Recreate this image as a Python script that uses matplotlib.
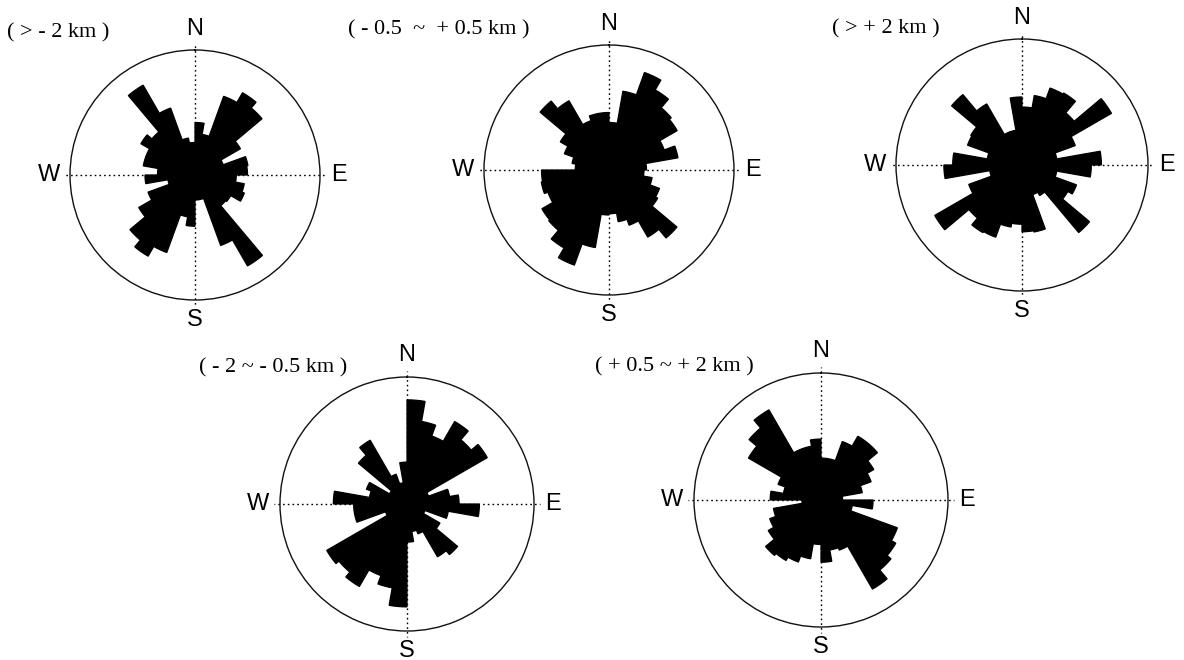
import numpy as np
import matplotlib
matplotlib.use("Agg")
import matplotlib.pyplot as plt

# Relative petal lengths (fraction of the outer circle) for 36 sectors of 10 degrees,
# listed clockwise starting at North.
rose_gt_minus2 = [0.42, 0.33, 0.67, 0.76, 0.70, 0.42, 0.24, 0.43, 0.42, 0.33, 0.40, 0.42,
                  0.33, 0.32, 0.84, 0.60, 0.20, 0.20, 0.41, 0.34, 0.66, 0.75, 0.68, 0.52,
                  0.40, 0.22, 0.40, 0.30, 0.42, 0.42, 0.50, 0.45, 0.83, 0.57, 0.30, 0.26]
rose_mid = [0.38, 0.64, 0.83, 0.74, 0.65, 0.63, 0.47, 0.56, 0.30, 0.28, 0.35, 0.43,
            0.45, 0.71, 0.62, 0.47, 0.42, 0.35, 0.36, 0.63, 0.81, 0.72, 0.63, 0.62,
            0.52, 0.55, 0.54, 0.27, 0.30, 0.38, 0.45, 0.72, 0.64, 0.42, 0.46, 0.46]
rose_gt_plus2 = [0.46, 0.56, 0.65, 0.66, 0.54, 0.82, 0.45, 0.28, 0.63, 0.55, 0.28, 0.46,
                 0.42, 0.70, 0.28, 0.25, 0.54, 0.53, 0.47, 0.50, 0.61, 0.62, 0.55, 0.80,
                 0.45, 0.26, 0.62, 0.55, 0.28, 0.46, 0.47, 0.73, 0.56, 0.28, 0.28, 0.54]
rose_minus2_minus05 = [0.82, 0.66, 0.57, 0.75, 0.66, 0.73, 0.18, 0.34, 0.41, 0.57, 0.33, 0.15,
                       0.30, 0.52, 0.48, 0.25, 0.22, 0.30, 0.81, 0.67, 0.60, 0.75, 0.70, 0.73,
                       0.18, 0.42, 0.42, 0.58, 0.30, 0.34, 0.16, 0.50, 0.58, 0.25, 0.17, 0.33]
rose_plus05_plus2 = [0.33, 0.33, 0.49, 0.58, 0.58, 0.48, 0.42, 0.33, 0.17, 0.41, 0.25, 0.64,
                     0.68, 0.72, 0.81, 0.42, 0.40, 0.49, 0.35, 0.47, 0.52, 0.55, 0.57, 0.48,
                     0.43, 0.38, 0.15, 0.40, 0.30, 0.36, 0.66, 0.74, 0.82, 0.43, 0.43, 0.48]

titles = ["( > - 2 km )", "( - 0.5  ~  + 0.5 km )", "( > + 2 km )",
          "( - 2 ~ - 0.5 km )", "( + 0.5 ~ + 2 km )"]
directions = ["N", "E", "S", "W"]
sector_width_deg = 10

W, H = 1184, 660
fig = plt.figure(figsize=(W / 100, H / 100), dpi=100)
fig.patch.set_facecolor("white")

# panel centres and radii in pixels, title anchor (x, y, alignment)
panels = [
    dict(data=rose_gt_minus2, c=(195, 175), r=125, t=(7, 33, "left")),
    dict(data=rose_mid, c=(609, 170), r=125, t=(348, 30, "left")),
    dict(data=rose_gt_plus2, c=(1022, 165), r=126, t=(832, 29, "left")),
    dict(data=rose_minus2_minus05, c=(407, 504), r=127, t=(347, 368, "right")),
    dict(data=rose_plus05_plus2, c=(821, 500), r=127, t=(595, 367, "left")),
]

label_r = {"N": 1.17, "E": 1.15, "S": 1.16, "W": 1.17}
sans = ["Liberation Sans", "DejaVu Sans"]
serif = ["Liberation Serif", "DejaVu Serif"]

for p, title in zip(panels, titles):
    cx, cy = p["c"]
    R = p["r"]
    ax = fig.add_axes([(cx - R) / W, (H - cy - R) / H, 2 * R / W, 2 * R / H],
                      projection="polar")
    ax.set_theta_zero_location("N")
    ax.set_theta_direction(-1)
    ax.set_ylim(0, 1)
    ax.grid(False)
    ax.set_xticks([])
    ax.set_yticks([])
    ax.spines["polar"].set_linewidth(1.0)
    ax.spines["polar"].set_color("#111111")
    ax.patch.set_alpha(0)

    vals = np.asarray(p["data"])
    starts = np.deg2rad(np.arange(len(vals)) * sector_width_deg)
    ax.bar(starts, vals, width=np.deg2rad(sector_width_deg), align="edge",
           color="black", edgecolor="black", linewidth=0.9, zorder=3)

    for i, d in enumerate(directions):
        ang = np.deg2rad(90 * i)
        ax.plot([ang, ang], [0, 1.05], ls=(0, (1.2, 2.2)), color="black",
                lw=1.0, clip_on=False, zorder=2)
        ax.text(ang, label_r[d], d, ha="center", va="center", fontsize=17,
                family=sans, clip_on=False)

    tx, ty, ha = p["t"]
    fig.text(tx / W, 1 - ty / H, title, ha=ha, va="center",
             fontsize=16, family=serif)

fig.savefig("out.png", dpi=100, facecolor="white")
